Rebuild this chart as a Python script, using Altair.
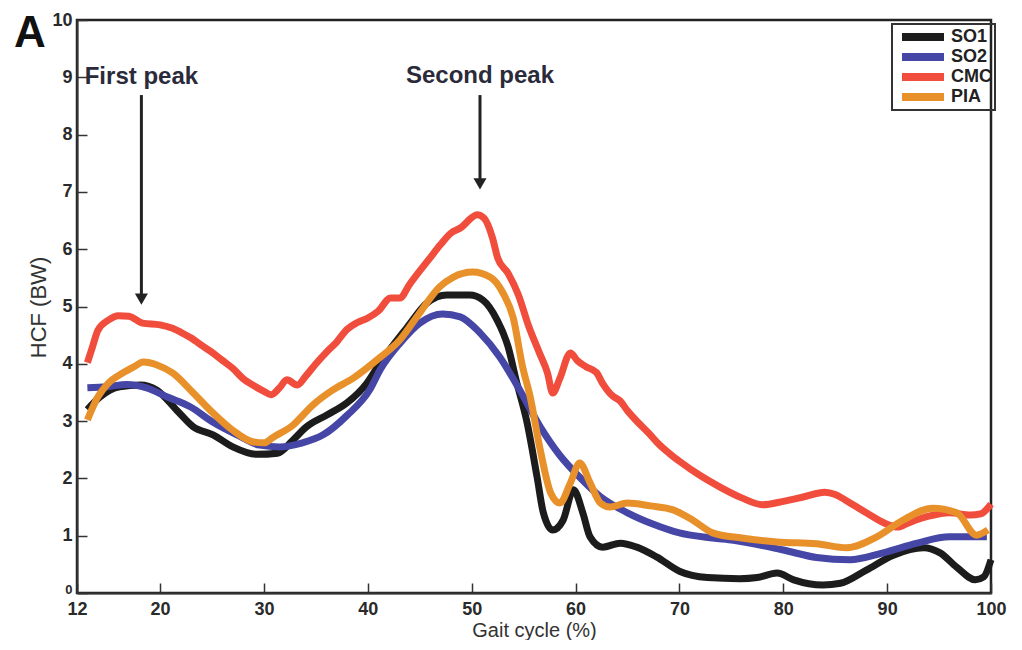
import altair as alt
import pandas as pd

series_names = ["SO1", "SO2", "CMC", "PIA"]
series_colors = ["#1c1c1c", "#4646a6", "#f04d3d", "#e8912b"]

so1_x = [13, 14.2, 16.1, 18.1, 19.7, 21.6, 23.2, 25.1, 27, 29.3, 31.3, 32.8, 34.1, 36.1, 38, 39.9,
         41.2, 43.8, 45.7, 47.6, 49.8, 51.1, 52.4, 53.5, 54.3, 55.3, 56.3, 56.9, 57.8, 58.8, 59.8,
         60.7, 61.4, 62.6, 64.3, 65.9, 67.8, 70, 72.7, 75.8, 77.5, 79.4, 81, 83.8, 85.5, 88, 90.6,
         93.5, 95.1, 96.7, 98.5, 99.3, 100]
so1_y = [3.2, 3.42, 3.6, 3.63, 3.54, 3.19, 2.9, 2.76, 2.55, 2.42, 2.44, 2.67, 2.9, 3.11, 3.32, 3.66,
         4.02, 4.64, 5.06, 5.2, 5.2, 5.11, 4.78, 4.3, 3.7, 3.0, 2.02, 1.4, 1.1, 1.27, 1.8,
         1.4, 0.98, 0.8, 0.87, 0.8, 0.63, 0.38, 0.27, 0.25, 0.27, 0.35, 0.23, 0.14, 0.17, 0.4, 0.66,
         0.79, 0.7, 0.45, 0.23, 0.28, 0.58]

so2_x = [13, 14.9, 16.8, 18.7, 20.7, 22.9, 25.1, 27.4, 29.6, 31.5, 33.7, 35.7, 38, 40.2, 41.2, 43.1,
         45, 47.2, 48.9, 50.8, 52.7, 54.6, 56.6, 58.5, 60.4, 62.4, 65, 67.5, 70, 73.2, 75.2, 80,
         83.2, 86.4, 89.6, 92.9, 96, 99.6]
so2_y = [3.58, 3.6, 3.64, 3.58, 3.42, 3.25, 2.98, 2.76, 2.58, 2.55, 2.62, 2.76, 3.1, 3.55, 3.9, 4.36,
         4.71, 4.87, 4.82, 4.54, 4.12, 3.55, 2.9, 2.4, 2.02, 1.68, 1.4, 1.2, 1.05, 0.96, 0.92, 0.75,
         0.62, 0.58, 0.7, 0.87, 0.98, 0.98]

cmc_x = [13, 13.5, 14, 15, 16, 17, 18.3, 20, 21.2, 22, 23, 24, 25, 26, 27, 28, 29, 30, 30.7, 31.5,
         32.2, 33.2, 34, 35, 36, 37, 38, 39, 40, 41, 42.2, 43.1, 44, 45, 46, 47, 48, 49, 50, 50.5,
         51.2, 52, 52.5, 53.5, 54.5, 55.5, 56.5, 57.3, 57.8, 58.5, 59.5, 60.2, 61, 62, 62.6, 63.5,
         64.3, 65, 66, 67, 68, 69, 70, 72, 74, 76, 78, 80, 82, 84, 85, 86, 88, 90, 91, 92, 94, 96,
         98, 99, 100]
cmc_y = [4.02, 4.3, 4.58, 4.76, 4.84, 4.83, 4.71, 4.68, 4.62, 4.55, 4.45, 4.32, 4.2, 4.06, 3.92, 3.74,
         3.62, 3.52, 3.46, 3.58, 3.72, 3.63, 3.78, 4.0, 4.2, 4.38, 4.6, 4.72, 4.8, 4.92, 5.15, 5.15,
         5.38, 5.62, 5.85, 6.08, 6.28, 6.38, 6.55, 6.6, 6.54, 6.2, 5.85, 5.58, 5.2, 4.65, 4.2, 3.84,
         3.49, 3.75, 4.19, 4.05, 3.95, 3.85, 3.66, 3.45, 3.35, 3.18, 2.98, 2.8, 2.6, 2.44, 2.3, 2.05,
         1.84, 1.66, 1.54, 1.6, 1.68, 1.76, 1.72, 1.62, 1.4, 1.2, 1.15, 1.22, 1.34, 1.4, 1.36, 1.38,
         1.55]

pia_x = [13, 14.0, 15, 16.4, 17.5, 18.4, 19.7, 21.2, 23.2, 25.1, 27, 28.9, 30, 30.9, 32.8, 34.7,
         36.6, 38.6, 40.9, 43.1, 45, 46.9, 48.2, 50.1, 51.8, 53, 54, 54.9, 55.6, 56.6, 57.6, 58.5,
         59.5, 60.4, 61.4, 62.4, 63.3, 65, 67.2, 69.4, 71.3, 73.2, 76, 79.4, 83.2, 86.1, 89, 91.5,
         94.4, 96.7, 98.6, 99.7]
pia_y = [3.02, 3.42, 3.66, 3.84, 3.95, 4.03, 3.98, 3.84, 3.49, 3.14, 2.84, 2.64, 2.62, 2.72, 2.93, 3.28,
         3.54, 3.75, 4.07, 4.42, 4.89, 5.34, 5.51, 5.6, 5.51, 5.24, 4.8, 3.95, 3.45, 2.5, 1.75, 1.57,
         1.92, 2.27, 1.92, 1.57, 1.5, 1.57, 1.52, 1.45, 1.27, 1.05, 0.96, 0.89, 0.86, 0.79, 0.98, 1.27,
         1.48, 1.4, 1.01, 1.1]

x_ticks = [12, 20, 30, 40, 50, 60, 70, 80, 90, 100]
y_ticks = [0, 1, 2, 3, 4, 5, 6, 7, 8, 9, 10]

peak_labels = ["First peak", "Second peak"]
arrow_x = [18.2, 50.8]
arrow_top = [8.69, 8.69]
arrow_head = [5.13, 7.14]
label_y = [8.88, 8.9]

rows = []
for name, xs, ys in [("SO1", so1_x, so1_y), ("SO2", so2_x, so2_y),
                     ("CMC", cmc_x, cmc_y), ("PIA", pia_x, pia_y)]:
    for i, (a, b) in enumerate(zip(xs, ys)):
        rows.append({"series": name, "gait": a, "hcf": b, "order": i})
df = pd.DataFrame(rows)

ann = pd.DataFrame({"label": peak_labels, "x": arrow_x, "top": arrow_top,
                    "head": arrow_head, "ly": label_y})

FONT = "Liberation Sans"

x_scale = alt.Scale(domain=[12, 100], nice=False, zero=False)
y_scale = alt.Scale(domain=[0, 10], nice=False)

x_axis = alt.Axis(values=x_ticks, format="d", tickSize=alt.ExprRef(expr="-10"), labelFont=FONT,
                  labelFontWeight="bold", labelFontSize=18, labelColor="#2a2a2a",
                  labelPadding=17, labelFlush=False, domainColor="#333", domainWidth=2,
                  tickColor="#333", tickWidth=1.5, grid=False, title="Gait cycle (%)",
                  titleFont=FONT, titleFontSize=20, titleFontWeight="normal",
                  titleColor="#333", titleY=27, titleBaseline="top")
y_axis = alt.Axis(values=y_ticks, format="d", tickSize=alt.ExprRef(expr="-10"), labelFont=FONT,
                  labelFontWeight="bold",
                  labelFontSize={"condition": {"test": "datum.value == 0", "value": 13}, "value": 18},
                  labelOffset={"condition": {"test": "datum.value == 0", "value": -4}, "value": 0},
                  labelColor="#2a2a2a",
                  labelPadding=15, domainColor="#333", domainWidth=2, tickColor="#333",
                  tickWidth=1.5, grid=False, title="HCF (BW)", titleFont=FONT,
                  titleFontSize=22, titleFontWeight="normal", titleColor="#333",
                  titleX=-39, titleY=287, titleBaseline="middle", titleAlign="center")

lines = alt.Chart(df).mark_line(strokeWidth=7, interpolate="monotone", strokeJoin="round").encode(
    x=alt.X("gait:Q", scale=x_scale, axis=x_axis),
    y=alt.Y("hcf:Q", scale=y_scale, axis=y_axis),
    color=alt.Color("series:N",
                    scale=alt.Scale(domain=series_names, range=series_colors),
                    legend=alt.Legend(title=None, orient="none", legendX=815, legendY=4,
                                      strokeColor="#333", padding=3, clipHeight=20,
                                      rowPadding=0, symbolType="stroke", symbolSize=1764,
                                      symbolStrokeWidth=8, symbolOffset=3, labelOffset=3,
                                      labelFont=FONT, labelFontWeight="bold",
                                      labelFontSize=18, labelColor="#222")),
    order="order:Q",
)

shafts = alt.Chart(ann).mark_rule(strokeWidth=3, color="#222").encode(
    x=alt.X("x:Q", scale=x_scale),
    y=alt.Y("top:Q", scale=y_scale),
    y2="head:Q",
)
heads = alt.Chart(ann).mark_point(shape="triangle-down", filled=True, size=170,
                                  color="#222", opacity=1).encode(
    x=alt.X("x:Q", scale=x_scale),
    y=alt.Y("head:Q", scale=y_scale),
)
labels = alt.Chart(ann).mark_text(font=FONT, fontSize=24, fontWeight="bold", color="#2a2a3a",
                                  align="center", baseline="alphabetic").encode(
    x=alt.X("x:Q", scale=x_scale),
    y=alt.Y("ly:Q", scale=y_scale),
    text="label:N",
)
panel = alt.Chart(pd.DataFrame({"t": ["A"]})).mark_text(
    font=FONT, fontSize=44, fontWeight="bold", color="#111", align="left",
    baseline="alphabetic").encode(x=alt.value(-63), y=alt.value(27), text="t:N")

chart = alt.layer(lines, shafts, heads, labels, panel).properties(
    width=914, height=573,
    autosize=alt.AutoSizeParams(type="none"),
    padding={"left": 69, "top": 12, "right": 19, "bottom": 47},
).configure_view(stroke="#222", strokeWidth=2.5).configure_legend(strokeWidth=2)

chart.save("out.html", embed_options={"renderer": "svg", "actions": False})
